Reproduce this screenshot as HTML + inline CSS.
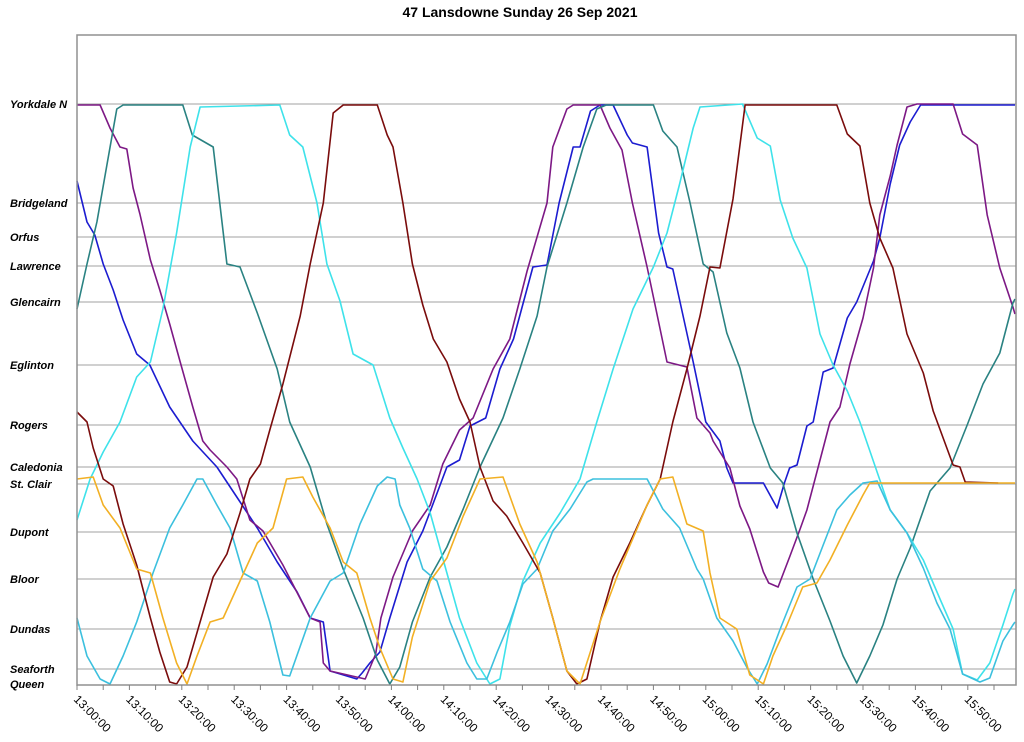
<!DOCTYPE html>
<html><head><meta charset="utf-8"><style>
body{margin:0;background:#fff;}
svg{display:block;font-family:"Liberation Sans",sans-serif;}
</style></head><body>
<svg id="chart" width="1024" height="742" viewBox="0 0 1024 742">
<text x="520" y="17" text-anchor="middle" font-size="14" font-weight="bold">47 Lansdowne Sunday 26 Sep 2021</text>
<g id="grid"></g><g id="series"></g><g id="axes"></g>
</svg>
<script>
// stops and distances (distance units from Queen)
const stopNames=["Yorkdale N","Bridgeland","Orfus","Lawrence","Glencairn","Eglinton","Rogers","Caledonia","St. Clair","Dupont","Bloor","Dundas","Seaforth","Queen"];
const stopDist=[580,481,447,418,382,319,259,217,200,152,105,55,15,0];
const tickLabels=["13:00:00","13:10:00","13:20:00","13:30:00","13:40:00","13:50:00","14:00:00","14:10:00","14:20:00","14:30:00","14:40:00","14:50:00","15:00:00","15:10:00","15:20:00","15:30:00","15:40:00","15:50:00"];
const tickMinutes=[0,10,20,30,40,50,60,70,80,90,100,110,120,130,140,150,160,170];
// series: minutes after 13:00, distance
const blueT=[0,1.9,3.4,5,6.9,8.8,11.4,13.9,17.7,22.1,26.7,30.5,34.4,38.2,42,44.5,47,48.3,49.6,53.4,54.4,55.9,57.8,59.7,63,66,70.6,73,75,78,80.7,83.3,87,89.7,92,94.7,96,98,99.8,102.3,105,106,108.8,111,112.6,113.7,117.6,120,122.7,124,125.2,131,133.6,135,136,137.4,139.3,140.5,142.4,144.3,147,148.8,152,153.2,155.2,157,159,161,179];
const blueD=[503,462,449,420,394,364,330,319,277,243,217,187,156,122,92,66,62,13,11,5,11,21,32,66,122,153,217,224,258,266,315,345,417,419,481,537,537,573,579,579,549,541,537,451,417,415,322,262,243,216,201,201,176,201,216,219,258,262,312,316,366,382,423,446,500,539,562,579,579];
const purpleT=[0,4.4,6.3,8.2,9.5,10.7,12,14,15.8,17.7,19.7,22.1,24,25.4,28.6,30.5,33,35.5,39.3,44.5,46.4,47,48.3,55,57,58,60.3,64,67.4,69.8,73,75.6,79.4,82.6,85.9,89.7,90.8,93.5,94.7,99.8,101.7,104,106,108.8,110,112.6,116.4,118.3,120.8,121.4,124.6,126.5,128.4,131,132,133.8,136,138,139.3,141.2,143.7,145.6,147.5,150,152,153.2,155.2,156.5,158.4,160.3,167.2,169,171.8,173.7,176.1,178.6,179];
const purpleD=[579,579,556,537,535,496,470,424,394,360,322,277,243,234,217,205,164,153,119,66,62,21,13,5,30,66,107,153,179,220,254,266,315,345,413,481,537,575,579,579,556,534,481,417,387,322,317,266,251,243,216,178,155,112,101,97,127,155,174,212,262,277,320,366,416,469,508,539,577,580,580,550,539,469,416,377,370];
const tealT=[0,1.9,3.8,5.7,7.6,8.8,20.2,22,26,28.6,31.1,34.4,38.2,40.6,44.5,47.7,50.8,54.6,57.3,59.7,61.6,64,67.4,70.6,73.7,76.9,81.3,84.5,87.8,89.7,93.5,96.6,99.2,101,110,111.8,114.5,117,119.5,121.4,124,126.5,129,132.3,134.7,137.4,140.5,143.7,146.2,148.8,151.3,153.8,156.5,159,162.8,166.6,169.8,172.9,176.1,178.6,179];
const tealD=[375,420,462,519,575,579,579,549,537,420,417,371,315,262,217,160,115,66,24,0,17,62,107,137,175,217,266,315,368,417,481,537,575,579,579,553,537,481,420,412,351,316,262,216,201,151,105,63,28,1,28,59,105,136,193,216,258,300,331,381,385];
const cyanT=[0,2.5,5,8.2,11.4,14,16.4,19,21.6,23.5,38.7,40.6,43.1,45.8,47.7,50.2,52.7,56.5,59.7,62.2,64.9,67.4,70.6,73,76.3,78.8,80.7,82.6,85.1,88.4,92.2,96,99.2,102.3,106.1,110,112.6,115,117.6,118.9,127,129.8,132.3,134.2,136.6,139.3,141.8,144.3,147,149.4,152.7,155.2,158.4,161.5,164.7,167.2,169,171.8,174.2,176.7,178.6,179];
const cyanD=[164,205,232,262,307,322,375,451,537,577,579,549,537,481,420,383,330,319,266,236,205,171,111,66,21,0,5,58,103,141,171,205,262,315,375,417,451,500,556,577,580,546,538,484,446,416,350,319,293,262,212,174,151,124,85,55,10,4,21,59,90,95];
const skyT=[0,1.9,4.4,6.3,8.8,11.4,14.5,17.7,20.2,22.9,24,26.7,29.2,31.7,34.4,36.8,39.3,40.6,44.5,48.3,50.8,54,57.3,59.2,60.7,61.6,63.5,66,68.7,71.2,74.4,76.3,78.2,80.2,82.6,85.1,87.8,90.8,94.1,97.3,98.5,108.8,111.8,115,118.3,119.5,122.1,125.2,127.9,129.8,131.7,134.2,137.4,139.9,142.4,145,147.5,150,152.7,155.2,158.4,161.5,164.1,166.6,169,172.3,174.2,176.7,178.6,179];
const skyD=[66,28,5,0,28,62,111,156,179,205,205,179,156,111,103,62,9,8,66,103,111,160,198,207,205,179,156,115,103,62,21,5,5,32,62,100,115,153,175,202,205,205,175,156,115,105,66,43,16,0,20,55,97,105,139,174,189,201,203,174,151,116,81,55,10,2,6,43,59,62];
const redT=[0,1.9,3.1,5,6.9,8.8,11.4,14,15.8,17.7,19,21,23.5,26,28.6,31.1,33,35,36.8,39.3,42.6,44.5,47,48.9,50.8,57.3,59.2,60.3,62.2,64,66,68,70.6,73,75,76.9,79.4,82,85.1,88.4,90.8,93.5,95.4,97.3,99.8,102.3,105.5,108.8,111.3,113.7,116.4,118.9,120.8,122.7,125.2,127.5,145,147,149.4,151.3,153.2,155.7,158.4,161.5,163.4,167.2,168.5,169.5,175.8];
const redD=[272,262,236,205,198,160,119,66,32,2,0,17,62,107,130,171,205,220,254,300,368,420,481,571,579,579,549,537,481,420,379,345,322,285,262,217,183,168,141,111,66,13,0,5,62,107,141,179,205,262,315,368,417,416,485,579,579,550,538,481,446,416,350,311,273,219,217,202,201];
const orangeT=[0,3.1,5,8.2,11.4,14,16.4,19,21,22.9,25.4,27.9,31.1,34.4,37.4,40,43.1,45,48.3,50.8,53.4,55.9,57.8,60.3,62.2,64,67.4,70.6,73.7,76.9,81.3,84.5,87.8,90.8,93.5,96,99.8,103.6,108.8,111.3,113.7,116.4,119.5,120.8,122.7,125.9,128.4,131,132.8,135.5,138.5,141.2,143.7,147,150,151.3,179];
const orangeD=[205,207,179,156,115,111,66,21,0,28,62,66,103,141,156,205,207,187,156,122,111,66,36,5,2,47,103,126,168,205,207,160,122,66,13,0,62,115,179,205,207,160,153,111,66,55,9,0,28,59,97,101,124,159,189,201,201];

const X0=77,X1=1016,Y0=35,YB=684;
const minPx=5.24;
const xs=m=>X0+m*minPx;
const ys=d=>YB-d;
const NS="http://www.w3.org/2000/svg";
function mk(tag,attrs,parent){const e=document.createElementNS(NS,tag);for(const k in attrs)e.setAttribute(k,attrs[k]);parent.appendChild(e);return e;}
const grid=document.getElementById('grid'),axes=document.getElementById('axes'),ser=document.getElementById('series');
stopNames.forEach((n,i)=>{
  const y=ys(stopDist[i]);
  if(stopDist[i]>0){const l=mk('line',{x1:X0,x2:X1,y1:y,y2:y,stroke:'#a0a0a0','stroke-width':1},grid);
  
  }
  const t=mk('text',{x:10,y:y+4,'font-size':11,'font-weight':'bold','font-style':'italic'},axes);
  t.textContent=n;
  
  
});
const frame=mk('rect',{x:X0,y:Y0,width:X1-X0,height:685-Y0,fill:'none',stroke:'#909090','stroke-width':1.5},axes);


for(let m=0;m<=175;m+=5){const tk=mk('line',{x1:xs(m),x2:xs(m),y1:685,y2:690,stroke:'#808080'},axes);

}
tickLabels.forEach((s,i)=>{
  const x=xs(tickMinutes[i]);
  const t=mk('text',{x:x-4,y:700,'font-size':12,transform:`rotate(45 ${x-4} 700)`},axes);
  t.textContent=s;
  
  
});
const seriesList=[["bus-blue",blueT,blueD,"#1c1cd0"],["bus-purple",purpleT,purpleD,"#7d1985"],["bus-teal",tealT,tealD,"#2a8282"],["bus-cyan",cyanT,cyanD,"#3ee2ea"],["bus-skyblue",skyT,skyD,"#3cc0de"],["bus-darkred",redT,redD,"#7a0c0c"],["bus-orange",orangeT,orangeD,"#f2b024"]];
seriesList.forEach(([name,T,D,c])=>{
  const pts=T.map((t,i)=>xs(Math.min(t,179.2)).toFixed(1)+','+ys(D[i]).toFixed(1)).join(' ');
  const p=mk('polyline',{points:pts,fill:'none',stroke:c,'stroke-width':1.6,'stroke-linejoin':'round'},ser);
  
  
});
</script>
</body></html>
